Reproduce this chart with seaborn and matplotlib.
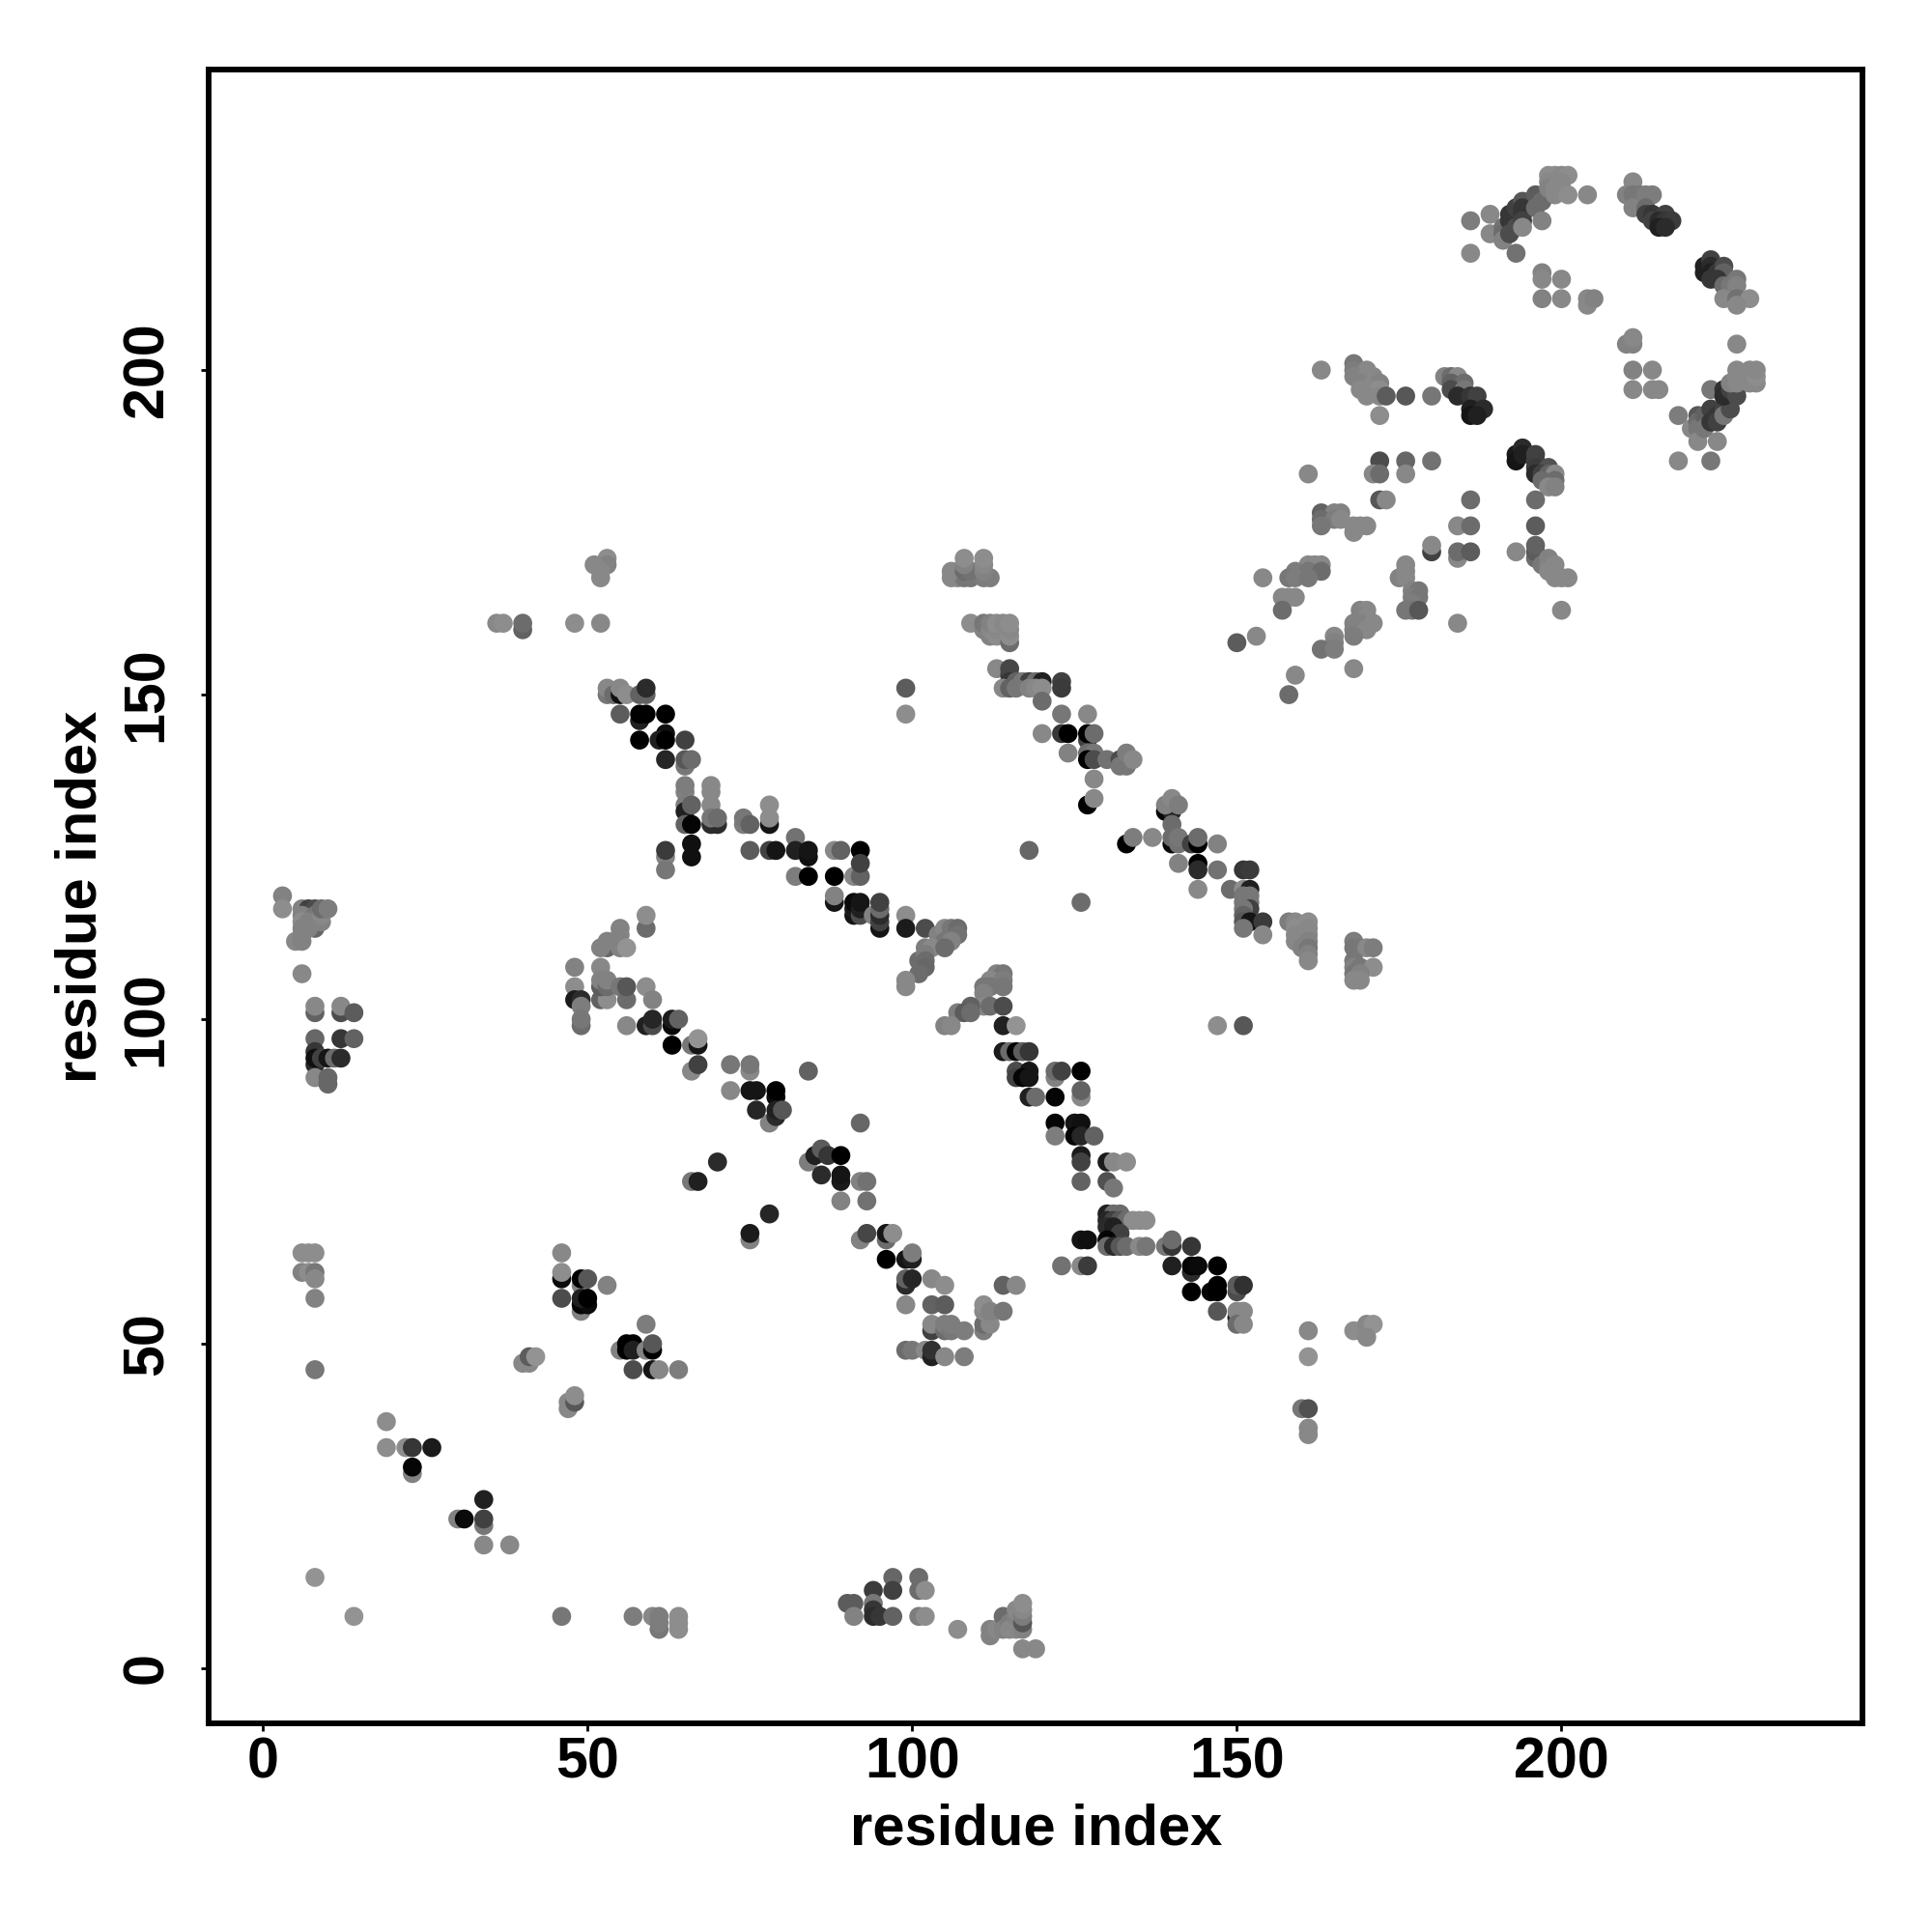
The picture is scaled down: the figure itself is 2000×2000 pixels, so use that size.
import pandas as pd
import matplotlib
matplotlib.use("Agg")
import matplotlib.pyplot as plt
import seaborn as sns

# contact points: (residue i, residue j, grey level)
lower_left = [
(6,64,130),(7,64,130),(8,64,130),(6,61,120),(7,61,130),(8,61,110),(8,60,125),(8,57,120),(8,46,110),
(19,38,130),(19,34,130),(22,34,130),(23,34,50),(26,34,25),(23,30,120),(23,31,5),(34,26,30),
(30,23,120),(34,22,110),(31,23,10),(34,23,60),(34,19,125),(38,19,125),(8,14,135),(14,8,135),
]
low_band = [
(46,8,110),(57,8,115),(60,8,125),(61,6,110),(61,7,115),(61,8,115),(64,6,130),(64,7,130),(64,8,130),
(97,14,95),(101,14,100),(94,12,55),(97,12,60),(101,12,100),(102,12,130),(90,10,85),(91,10,85),(94,10,110),
(94,9,50),(94,8,40),(95,8,50),(91,8,120),(97,8,90),(101,8,115),(102,8,130),(107,6,130),
(112,5,120),(112,6,120),(113,6,125),(114,8,100),(114,6,120),(115,7,115),(115,6,125),(116,6,125),(116,8,120),(116,9,125),
(117,6,120),(117,7,80),(117,8,115),(117,9,125),(117,10,130),(117,3,125),(119,3,125),
]
block_50 = [
(46,64,125),(46,60,10),(46,61,130),(49,59,120),(49,60,0),(50,60,80),(53,59,120),(49,55,120),(49,56,5),(50,56,10),
(46,57,70),(49,57,30),(50,57,0),(59,53,115),(55,49,120),(56,50,0),(57,50,0),(56,49,0),(57,49,30),(59,49,120),
(60,49,0),(60,50,80),(57,46,70),(60,46,20),(61,46,125),(64,46,115),(40,47,125),(41,47,125),(41,48,85),(42,48,135),
(47,40,125),(47,41,125),(48,41,80),(48,42,130),
]
left_stack = [
(3,119,120),(3,117,130),(5,112,125),(6,117,120),(7,117,60),(8,117,70),(6,116,120),(8,116,110),(6,115,130),(7,115,120),
(8,114,95),(6,114,120),(7,114,120),(6,113,120),(6,112,120),(9,115,120),(9,116,125),(9,117,100),(10,117,115),(6,107,125),
(8,101,90),(8,102,125),(12,101,70),(12,102,125),(14,101,85),(8,97,95),(12,97,50),(14,97,90),(8,95,50),
(8,93,40),(8,94,15),(9,94,60),(10,94,20),(11,94,100),(12,94,40),(8,91,125),(10,90,95),(10,91,95),
]
lower_diagonal = [
(59,114,100),(59,116,130),(55,114,120),(53,111,95),(52,111,120),(53,112,120),(55,113,120),(55,111,120),(56,111,135),
(48,108,120),(48,105,130),(48,103,25),(49,103,40),(49,102,115),(49,99,100),(49,100,110),(52,108,125),(52,103,90),(53,103,130),
(52,105,85),(52,106,120),(53,105,100),(53,106,120),(55,105,110),(56,103,100),(56,105,80),(59,105,130),(60,103,120),
(56,99,125),(59,99,30),(60,99,70),(60,100,35),(63,99,10),(63,100,25),(64,100,90),(63,96,0),(66,96,110),(67,96,20),(67,97,135),
(66,92,125),(67,93,60),(72,93,110),(75,92,125),(75,93,110),(84,92,90),(72,89,125),(75,89,20),(76,89,20),(79,88,10),(79,89,0),
(78,84,120),(79,85,40),(76,86,35),(79,86,30),(80,86,80),(92,84,95),(84,78,115),(85,79,30),(86,80,85),(87,79,50),(89,79,0),
(70,78,40),(66,75,110),(67,75,30),(86,76,40),(89,75,25),(89,76,20),(78,70,35),(75,66,120),(75,67,25),(92,75,120),(93,75,105),
(89,72,120),(93,72,105),(92,66,120),(93,67,65),(96,66,100),(96,67,20),(97,67,130),(96,63,0),(99,63,20),(100,63,30),(100,64,115),
(99,59,40),(99,60,90),(100,60,35),(103,60,125),(105,59,130),(99,56,125),(103,56,90),(105,56,85),(103,52,60),(103,53,125),
(105,52,100),(105,53,115),(106,52,110),(106,53,115),(108,52,115),(111,52,115),(111,53,100),(112,53,125),(111,55,125),(111,56,130),
(112,55,120),(114,55,110),(114,59,90),(116,59,125),(99,49,100),(100,49,110),(102,49,125),(103,48,30),(103,49,45),(105,48,125),(108,48,115),
]
upper_diagonal = [
(53,150,110),(53,151,125),(54,150,100),(55,150,15),(55,151,125),(56,150,130),(58,150,90),(59,150,90),(59,151,40),
(55,147,85),(58,146,30),(58,147,0),(59,147,0),(62,147,0),(62,144,15),(58,143,0),(61,143,30),(62,143,0),(65,143,60),
(62,140,35),(65,139,110),(65,140,80),(66,140,100),(65,135,120),(65,136,115),(69,135,125),(69,136,125),(65,133,115),(69,133,125),
(65,132,30),(65,130,90),(66,130,5),(66,133,90),(69,130,40),(70,130,40),(69,131,110),(70,131,100),(74,130,115),(74,131,110),(75,130,90),
(78,130,20),(78,131,130),(78,133,130),(82,128,105),(62,125,120),(62,126,55),(66,125,15),(66,127,15),(75,126,85),(78,126,60),(79,126,20),
(82,126,30),(84,125,15),(84,126,20),(88,126,125),(89,126,90),(92,126,0),(62,123,110),(82,122,115),(84,122,0),(88,122,0),(91,122,125),
(92,122,90),(92,124,60),(88,118,20),(88,119,120),(91,116,20),(91,117,25),(91,118,10),(92,116,70),(92,117,30),(92,118,20),(94,116,120),
(95,114,20),(95,115,60),(95,116,40),(95,117,100),(95,118,60),(99,116,130),(99,114,25),(102,114,70),(104,113,120),(105,114,125),
(106,114,110),(107,114,100),(107,113,105),(105,112,110),(106,112,120),(102,111,115),(103,111,125),(105,111,100),(101,109,100),
(102,110,115),(102,109,100),(102,108,95),(101,107,100),(99,105,125),(99,106,125),(113,107,120),(114,107,110),(112,106,125),(114,106,115),
(111,105,110),(112,105,110),(114,105,110),(111,104,120),(111,102,125),(112,102,100),(114,102,70),(109,102,90),(107,101,115),(108,101,85),
(109,101,100),(105,99,120),(106,99,125),(114,99,30),(116,99,135),(114,95,25),(115,95,100),(116,95,5),(117,95,85),(118,95,50),
(116,92,70),(118,92,20),(116,91,60),(117,91,5),(118,91,20),(122,91,120),(122,92,100),(123,92,60),(126,92,0),(118,88,30),(119,88,100),
(122,88,5),(126,88,125),(126,89,90),(122,84,5),(125,84,20),(126,84,15),(122,82,115),(125,82,5),(126,82,35),(128,82,90),(126,79,25),(126,78,60),
(130,78,25),(131,78,125),(133,78,130),(126,75,90),(130,75,75),(131,74,110),(130,70,30),(131,70,100),(132,70,100),(130,69,35),(131,69,60),
(132,69,80),(133,69,100),(134,69,130),(135,69,130),(136,69,130),(130,68,40),(131,68,30),(132,67,60),(126,66,20),(127,66,15),(130,66,5),
(130,65,100),(131,65,40),(132,65,80),(133,65,100),(135,65,125),(136,65,110),(123,62,105),(126,62,125),(127,62,55),
(139,65,110),(140,65,50),(140,66,100),(143,65,50),(140,62,30),(143,61,40),(143,62,5),(144,62,10),(147,62,0),(143,58,0),(146,58,5),(147,58,0),
(147,59,0),(150,58,70),(150,59,85),(151,59,45),(147,55,80),(150,54,25),(150,55,125),(151,55,125),(150,53,100),(151,53,125),
]
far_right_low = [
(161,52,125),(161,48,135),(160,40,110),(161,40,75),(161,37,125),(161,36,125),(168,52,130),(169,52,130),(170,53,125),(171,53,135),(170,51,125),
(147,99,130),(151,99,80),(126,118,100),(118,126,95),
]
third_diagonal = [
(36,161,125),(37,161,130),(40,160,90),(40,161,100),(48,161,130),(52,161,125),(53,171,130),(53,170,120),(51,170,125),(52,169,125),(52,168,125),
(99,151,85),(99,147,130),(106,168,125),(107,168,125),(108,168,110),(109,168,110),(111,168,115),(112,168,115),(106,169,125),(108,169,100),(109,169,105),
(111,169,120),(108,170,120),(111,170,125),(108,171,130),(111,171,130),(109,161,130),(111,160,120),(111,161,110),(112,159,120),(112,160,125),(112,161,120),
(113,159,130),(113,160,125),(113,161,130),(114,161,125),(115,158,100),(115,159,130),(115,160,125),(115,161,130),(113,154,125),(115,153,60),(115,154,65),
(115,152,50),(116,152,90),(117,152,110),(118,152,60),(119,152,100),(120,152,30),(123,152,60),(114,151,125),(115,151,90),(116,151,110),(118,151,120),
(119,151,125),(120,151,130),(123,151,55),(120,149,100),(123,147,110),(127,147,125),(120,144,125),(123,144,50),(124,144,0),(127,143,60),(127,144,0),(128,144,100),
(124,141,120),(127,141,100),(128,141,110),(127,140,0),(128,140,70),(130,140,105),(132,140,70),(133,140,10),(132,139,110),(133,139,110),(133,141,115),(134,140,125),
(128,137,125),(127,133,0),(128,134,125),(139,132,5),(140,132,35),(139,133,120),(140,134,125),(141,133,115),(140,130,100),(133,127,0),(134,128,115),(137,128,125),
(140,127,10),(140,128,100),(141,127,105),(141,128,110),(143,127,60),(144,127,0),(144,128,100),(147,127,120),(141,124,120),(144,124,0),(144,123,40),(147,123,105),
(151,123,50),(152,123,55),(144,120,125),(149,120,100),(151,120,130),(152,120,30),(151,119,110),(152,119,110),(151,118,110),(152,118,110),(152,117,60),(151,117,110),
(151,116,90),(151,115,80),(152,115,20),(154,115,55),(151,114,110),(154,113,125),(158,115,115),(159,115,125),(161,115,130),(159,114,130),(161,114,125),(159,113,125),
(161,113,125),(159,112,125),(160,112,125),(161,112,120),(160,111,120),(161,111,110),(161,110,120),(161,109,125),(168,112,115),(168,111,110),(169,111,110),(170,111,125),
(171,111,115),(168,109,110),(168,108,120),(169,108,110),(171,108,130),(168,107,110),(169,107,120),(168,106,125),(169,106,125),
]
upper_right_fan = [
(163,200,125),(168,201,110),(168,200,115),(170,200,125),(168,199,120),(170,199,125),(171,199,125),(169,198,120),(171,198,125),(172,198,120),(169,197,125),(171,197,125),
(172,197,130),(170,196,125),(172,196,125),(173,196,85),(176,196,80),(180,196,110),(172,193,130),(182,199,120),(183,199,100),(184,199,125),(183,198,90),(185,198,100),
(183,197,70),(185,197,110),(184,196,40),(186,196,50),(187,196,60),(186,194,30),(188,194,40),(186,193,20),(187,193,30),(193,187,25),(193,186,20),(194,188,40),(194,187,30),
(196,187,60),(196,186,60),(196,185,55),(198,185,75),(196,184,40),(197,184,60),(198,184,90),(199,184,125),(197,183,100),(199,183,100),(198,182,125),(199,182,120),(196,180,100),
(172,186,70),(176,186,95),(180,186,105),(161,184,125),(171,184,125),(172,184,100),(176,184,125),(172,180,80),(173,180,125),(186,180,100),(163,178,90),(165,178,120),(166,178,120),
(163,177,100),(165,177,115),(166,177,125),(163,176,110),(168,176,125),(169,176,125),(170,176,125),(168,175,125),(184,176,125),(186,176,100),(196,176,85),(180,172,60),(180,173,125),
(184,171,125),(184,172,100),(186,172,85),(193,172,125),(196,171,100),(196,172,85),(196,173,90),(197,170,110),(198,171,120),(198,170,120),(199,170,125),(198,169,125),(199,169,125),
(161,170,125),(162,170,125),(163,170,125),(159,169,115),(161,169,110),(163,169,100),(154,168,125),(158,168,110),(159,168,115),(161,168,110),(175,168,120),(176,168,125),(176,169,125),(176,170,125),
(199,168,125),(200,168,125),(201,168,125),(157,165,125),(158,165,125),(159,165,125),(177,166,120),(178,166,110),(177,165,115),(178,165,110),(177,164,115),(157,163,100),(176,163,110),
(177,163,110),(178,163,80),(200,163,125),(169,163,120),(170,163,125),(169,162,120),(170,162,125),(168,161,120),(169,161,120),(171,161,125),(184,161,125),(168,160,120),(170,160,125),
(153,159,125),(165,159,125),(168,159,115),(150,158,85),(165,158,120),(163,157,105),(165,157,115),(168,154,125),(159,153,125),(158,150,100),
]
top_arc = [
(186,223,115),(189,224,125),(189,221,125),(186,218,125),(191,222,105),(191,221,100),(191,220,120),(192,224,50),(192,223,50),(192,221,70),(193,225,60),(193,222,70),(193,218,105),
(194,226,80),(194,225,50),(194,224,50),(194,223,60),(194,222,125),(196,227,85),(196,225,100),(197,226,100),(197,223,120),(198,230,130),(199,230,130),(200,230,125),(201,230,130),
(198,229,125),(200,229,125),(198,228,120),(199,228,125),(200,228,125),(199,227,125),(201,227,130),(204,227,125),(197,215,120),(197,214,125),(200,214,125),(197,211,120),(200,211,125),
(204,211,125),(204,210,125),(205,211,120),(211,229,125),(210,227,120),(211,227,110),(212,227,110),(213,227,115),(214,227,115),(211,225,120),(213,225,100),(213,224,60),(214,224,50),
(216,224,60),(214,223,60),(215,223,40),(216,223,50),(217,223,55),(215,222,30),(216,222,40),(222,216,30),(222,215,30),(223,217,60),(223,216,40),(223,215,30),(224,215,50),(225,216,70),
(225,215,90),(223,214,50),(224,214,50),(225,213,100),(226,213,110),(227,214,110),(227,213,120),(225,211,125),(227,211,105),(229,211,130),(227,210,125),(227,204,125),(210,204,120),
(211,204,120),(211,205,125),(211,200,120),(214,200,125),(211,197,125),(214,197,125),(215,197,125),
]
bottom_arc = [
(218,193,115),(220,191,125),(221,193,80),(221,192,100),(221,191,110),(221,189,125),(222,193,90),(222,191,110),(223,194,60),(223,192,50),(224,193,50),(224,192,60),(224,189,125),(225,194,60),(225,193,110),
(218,186,125),(223,186,110),(226,194,70),(223,197,110),(225,197,45),(225,196,40),(226,197,60),(227,197,100),(227,196,70),(226,198,120),(227,198,125),(227,199,125),(227,200,125),
(229,198,125),(229,199,125),(229,200,125),(230,198,125),(230,199,130),(230,200,125),
]

tick_values = [0, 50, 100, 150, 200]
axis_label = "residue index"

rows = (lower_left + low_band + block_50 + left_stack + lower_diagonal + upper_diagonal
        + far_right_low + third_diagonal + upper_right_fan + top_arc + bottom_arc)
df = pd.DataFrame(rows, columns=["i", "j", "grey"])

sns.set_style("white")
plt.rcParams["font.family"] = ["Liberation Sans", "DejaVu Sans"]
plt.rcParams["font.weight"] = "bold"

fig = plt.figure(figsize=(10, 10), dpi=200)
ax = fig.add_axes([216.3/2000, 216/2000, 1712/2000, 1712/2000])

sns.scatterplot(data=df, x="i", y="j", hue="grey", palette="gray", hue_norm=(0, 235),
                s=50, linewidth=0, legend=False, ax=ax)

ax.set_xlim(-8.33, 246.4)
ax.set_ylim(-8.48, 246.3)
ax.set_xticks(tick_values)
ax.set_yticks(tick_values)
ax.tick_params(axis="both", length=3, width=1, color="black", labelsize=21.3, labelcolor="black", bottom=True, left=True)
ax.tick_params(axis="x", pad=2)
ax.tick_params(axis="y", pad=10)
for t in ax.get_yticklabels():
    t.set_rotation(90)
    t.set_va("center")
ax.set_xlabel(axis_label, fontsize=21.5, fontweight="bold", color="black", labelpad=5)
ax.set_ylabel(axis_label, fontsize=21.5, fontweight="bold", color="black", labelpad=5)
for spine in ax.spines.values():
    spine.set_visible(True)
    spine.set_color("black")
    spine.set_linewidth(2.1)

fig.savefig("out.png", dpi=200, facecolor="white")
